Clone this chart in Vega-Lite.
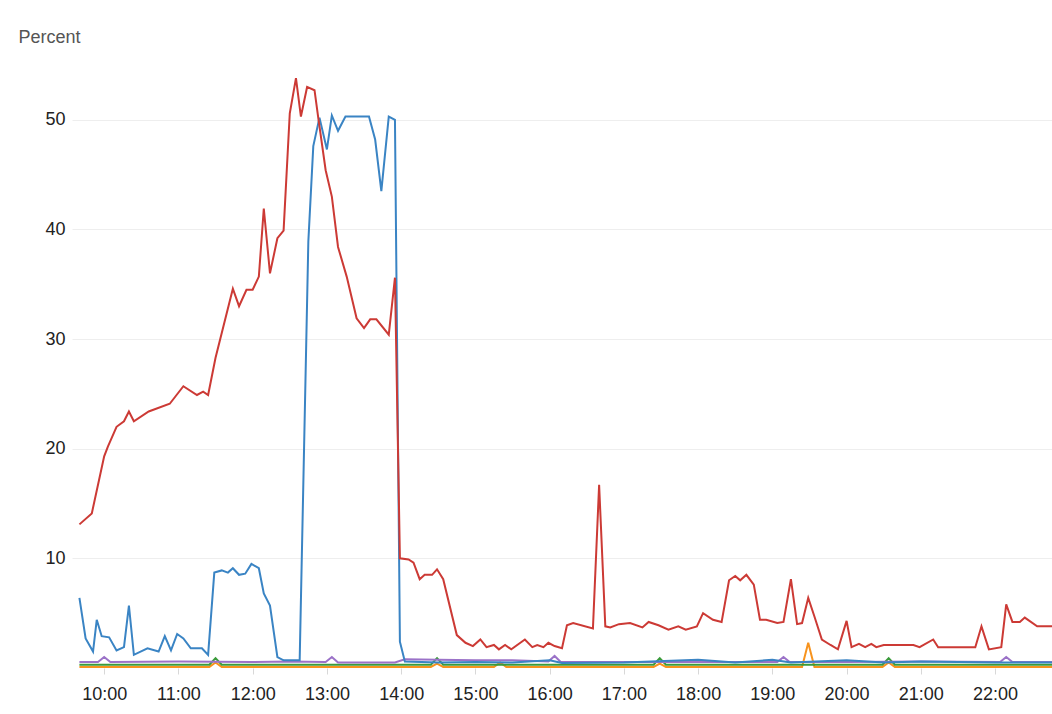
{
  "$schema": "https://vega.github.io/schema/vega-lite/v6.json",
  "autosize": {"type": "none"},
  "padding": {"left": 72, "top": 65, "right": 0, "bottom": 46},
  "width": 980,
  "height": 603,
  "background": "white",
  "config": {"view": {"stroke": null}, "font": "Liberation Sans"},
  "datasets": {
    "series": [
      {"s": "E", "t": "2020-01-01T09:40:00Z", "v": 0.1},
      {"s": "E", "t": "2020-01-01T11:25:00Z", "v": 0.1},
      {"s": "E", "t": "2020-01-01T11:30:00Z", "v": 0.5},
      {"s": "E", "t": "2020-01-01T11:35:00Z", "v": 0.1},
      {"s": "E", "t": "2020-01-01T14:24:00Z", "v": 0.1},
      {"s": "E", "t": "2020-01-01T14:29:00Z", "v": 0.4},
      {"s": "E", "t": "2020-01-01T14:34:00Z", "v": 0.1},
      {"s": "E", "t": "2020-01-01T15:15:00Z", "v": 0.1},
      {"s": "E", "t": "2020-01-01T15:20:00Z", "v": 0.5},
      {"s": "E", "t": "2020-01-01T15:25:00Z", "v": 0.1},
      {"s": "E", "t": "2020-01-01T17:24:00Z", "v": 0.1},
      {"s": "E", "t": "2020-01-01T17:29:00Z", "v": 0.4},
      {"s": "E", "t": "2020-01-01T17:34:00Z", "v": 0.1},
      {"s": "E", "t": "2020-01-01T19:24:00Z", "v": 0.1},
      {"s": "E", "t": "2020-01-01T19:29:00Z", "v": 2.3},
      {"s": "E", "t": "2020-01-01T19:34:00Z", "v": 0.1},
      {"s": "E", "t": "2020-01-01T20:29:00Z", "v": 0.1},
      {"s": "E", "t": "2020-01-01T20:34:00Z", "v": 0.5},
      {"s": "E", "t": "2020-01-01T20:39:00Z", "v": 0.1},
      {"s": "E", "t": "2020-01-01T22:46:00Z", "v": 0.1},

      {"s": "D", "t": "2020-01-01T09:40:00Z", "v": 0.3},
      {"s": "D", "t": "2020-01-01T11:25:00Z", "v": 0.3},
      {"s": "D", "t": "2020-01-01T11:30:00Z", "v": 0.9},
      {"s": "D", "t": "2020-01-01T11:35:00Z", "v": 0.3},
      {"s": "D", "t": "2020-01-01T14:24:00Z", "v": 0.3},
      {"s": "D", "t": "2020-01-01T14:29:00Z", "v": 0.9},
      {"s": "D", "t": "2020-01-01T14:34:00Z", "v": 0.3},
      {"s": "D", "t": "2020-01-01T17:24:00Z", "v": 0.3},
      {"s": "D", "t": "2020-01-01T17:29:00Z", "v": 0.9},
      {"s": "D", "t": "2020-01-01T17:34:00Z", "v": 0.3},
      {"s": "D", "t": "2020-01-01T20:29:00Z", "v": 0.3},
      {"s": "D", "t": "2020-01-01T20:34:00Z", "v": 0.9},
      {"s": "D", "t": "2020-01-01T20:39:00Z", "v": 0.3},
      {"s": "D", "t": "2020-01-01T22:46:00Z", "v": 0.3},

      {"s": "C", "t": "2020-01-01T09:40:00Z", "v": 0.55},
      {"s": "C", "t": "2020-01-01T09:55:00Z", "v": 0.55},
      {"s": "C", "t": "2020-01-01T10:00:00Z", "v": 1.0},
      {"s": "C", "t": "2020-01-01T10:05:00Z", "v": 0.55},
      {"s": "C", "t": "2020-01-01T11:00:00Z", "v": 0.6},
      {"s": "C", "t": "2020-01-01T12:00:00Z", "v": 0.55},
      {"s": "C", "t": "2020-01-01T12:30:00Z", "v": 0.6},
      {"s": "C", "t": "2020-01-01T12:59:00Z", "v": 0.55},
      {"s": "C", "t": "2020-01-01T13:04:00Z", "v": 1.0},
      {"s": "C", "t": "2020-01-01T13:09:00Z", "v": 0.5},
      {"s": "C", "t": "2020-01-01T13:55:00Z", "v": 0.5},
      {"s": "C", "t": "2020-01-01T14:03:00Z", "v": 0.8},
      {"s": "C", "t": "2020-01-01T14:30:00Z", "v": 0.75},
      {"s": "C", "t": "2020-01-01T15:00:00Z", "v": 0.7},
      {"s": "C", "t": "2020-01-01T15:30:00Z", "v": 0.7},
      {"s": "C", "t": "2020-01-01T15:59:00Z", "v": 0.6},
      {"s": "C", "t": "2020-01-01T16:04:00Z", "v": 1.1},
      {"s": "C", "t": "2020-01-01T16:09:00Z", "v": 0.55},
      {"s": "C", "t": "2020-01-01T17:00:00Z", "v": 0.55},
      {"s": "C", "t": "2020-01-01T18:00:00Z", "v": 0.55},
      {"s": "C", "t": "2020-01-01T19:04:00Z", "v": 0.55},
      {"s": "C", "t": "2020-01-01T19:09:00Z", "v": 1.0},
      {"s": "C", "t": "2020-01-01T19:14:00Z", "v": 0.55},
      {"s": "C", "t": "2020-01-01T20:00:00Z", "v": 0.55},
      {"s": "C", "t": "2020-01-01T21:00:00Z", "v": 0.6},
      {"s": "C", "t": "2020-01-01T22:04:00Z", "v": 0.55},
      {"s": "C", "t": "2020-01-01T22:09:00Z", "v": 1.0},
      {"s": "C", "t": "2020-01-01T22:14:00Z", "v": 0.55},
      {"s": "C", "t": "2020-01-01T22:46:00Z", "v": 0.55},

      {"s": "B", "t": "2020-01-01T09:40:00Z", "v": 6.4},
      {"s": "B", "t": "2020-01-01T09:45:00Z", "v": 2.7},
      {"s": "B", "t": "2020-01-01T09:51:00Z", "v": 1.5},
      {"s": "B", "t": "2020-01-01T09:54:00Z", "v": 4.4},
      {"s": "B", "t": "2020-01-01T09:58:00Z", "v": 2.9},
      {"s": "B", "t": "2020-01-01T10:04:00Z", "v": 2.8},
      {"s": "B", "t": "2020-01-01T10:10:00Z", "v": 1.6},
      {"s": "B", "t": "2020-01-01T10:16:00Z", "v": 1.9},
      {"s": "B", "t": "2020-01-01T10:20:00Z", "v": 5.7},
      {"s": "B", "t": "2020-01-01T10:24:00Z", "v": 1.2},
      {"s": "B", "t": "2020-01-01T10:35:00Z", "v": 1.8},
      {"s": "B", "t": "2020-01-01T10:44:00Z", "v": 1.5},
      {"s": "B", "t": "2020-01-01T10:49:00Z", "v": 2.9},
      {"s": "B", "t": "2020-01-01T10:54:00Z", "v": 1.6},
      {"s": "B", "t": "2020-01-01T10:59:00Z", "v": 3.1},
      {"s": "B", "t": "2020-01-01T11:04:00Z", "v": 2.7},
      {"s": "B", "t": "2020-01-01T11:10:00Z", "v": 1.8},
      {"s": "B", "t": "2020-01-01T11:19:00Z", "v": 1.8},
      {"s": "B", "t": "2020-01-01T11:24:00Z", "v": 1.2},
      {"s": "B", "t": "2020-01-01T11:29:00Z", "v": 8.7},
      {"s": "B", "t": "2020-01-01T11:35:00Z", "v": 8.9},
      {"s": "B", "t": "2020-01-01T11:40:00Z", "v": 8.7},
      {"s": "B", "t": "2020-01-01T11:44:00Z", "v": 9.1},
      {"s": "B", "t": "2020-01-01T11:49:00Z", "v": 8.5},
      {"s": "B", "t": "2020-01-01T11:54:00Z", "v": 8.6},
      {"s": "B", "t": "2020-01-01T11:59:00Z", "v": 9.5},
      {"s": "B", "t": "2020-01-01T12:05:00Z", "v": 9.1},
      {"s": "B", "t": "2020-01-01T12:09:00Z", "v": 6.8},
      {"s": "B", "t": "2020-01-01T12:14:00Z", "v": 5.7},
      {"s": "B", "t": "2020-01-01T12:20:00Z", "v": 1.0},
      {"s": "B", "t": "2020-01-01T12:25:00Z", "v": 0.7},
      {"s": "B", "t": "2020-01-01T12:38:00Z", "v": 0.7},
      {"s": "B", "t": "2020-01-01T12:45:00Z", "v": 38.9},
      {"s": "B", "t": "2020-01-01T12:49:00Z", "v": 47.6},
      {"s": "B", "t": "2020-01-01T12:54:00Z", "v": 50.2},
      {"s": "B", "t": "2020-01-01T13:00:00Z", "v": 47.3},
      {"s": "B", "t": "2020-01-01T13:04:00Z", "v": 50.4},
      {"s": "B", "t": "2020-01-01T13:09:00Z", "v": 49.0},
      {"s": "B", "t": "2020-01-01T13:15:00Z", "v": 50.3},
      {"s": "B", "t": "2020-01-01T13:34:00Z", "v": 50.3},
      {"s": "B", "t": "2020-01-01T13:39:00Z", "v": 48.2},
      {"s": "B", "t": "2020-01-01T13:44:00Z", "v": 43.5},
      {"s": "B", "t": "2020-01-01T13:50:00Z", "v": 50.3},
      {"s": "B", "t": "2020-01-01T13:55:00Z", "v": 50.0},
      {"s": "B", "t": "2020-01-01T13:59:00Z", "v": 2.4},
      {"s": "B", "t": "2020-01-01T14:03:00Z", "v": 0.6},
      {"s": "B", "t": "2020-01-01T14:30:00Z", "v": 0.5},
      {"s": "B", "t": "2020-01-01T15:00:00Z", "v": 0.55},
      {"s": "B", "t": "2020-01-01T15:30:00Z", "v": 0.5},
      {"s": "B", "t": "2020-01-01T16:00:00Z", "v": 0.7},
      {"s": "B", "t": "2020-01-01T16:10:00Z", "v": 0.45},
      {"s": "B", "t": "2020-01-01T17:00:00Z", "v": 0.5},
      {"s": "B", "t": "2020-01-01T18:00:00Z", "v": 0.75},
      {"s": "B", "t": "2020-01-01T18:30:00Z", "v": 0.5},
      {"s": "B", "t": "2020-01-01T19:00:00Z", "v": 0.75},
      {"s": "B", "t": "2020-01-01T19:15:00Z", "v": 0.5},
      {"s": "B", "t": "2020-01-01T20:00:00Z", "v": 0.7},
      {"s": "B", "t": "2020-01-01T20:30:00Z", "v": 0.5},
      {"s": "B", "t": "2020-01-01T21:00:00Z", "v": 0.6},
      {"s": "B", "t": "2020-01-01T22:00:00Z", "v": 0.5},
      {"s": "B", "t": "2020-01-01T22:46:00Z", "v": 0.5},

      {"s": "A", "t": "2020-01-01T09:40:00Z", "v": 13.1},
      {"s": "A", "t": "2020-01-01T09:50:00Z", "v": 14.1},
      {"s": "A", "t": "2020-01-01T10:00:00Z", "v": 19.3},
      {"s": "A", "t": "2020-01-01T10:03:00Z", "v": 20.2},
      {"s": "A", "t": "2020-01-01T10:10:00Z", "v": 22.0},
      {"s": "A", "t": "2020-01-01T10:16:00Z", "v": 22.5},
      {"s": "A", "t": "2020-01-01T10:20:00Z", "v": 23.4},
      {"s": "A", "t": "2020-01-01T10:24:00Z", "v": 22.5},
      {"s": "A", "t": "2020-01-01T10:36:00Z", "v": 23.4},
      {"s": "A", "t": "2020-01-01T10:53:00Z", "v": 24.1},
      {"s": "A", "t": "2020-01-01T11:04:00Z", "v": 25.7},
      {"s": "A", "t": "2020-01-01T11:15:00Z", "v": 24.9},
      {"s": "A", "t": "2020-01-01T11:20:00Z", "v": 25.2},
      {"s": "A", "t": "2020-01-01T11:24:00Z", "v": 24.9},
      {"s": "A", "t": "2020-01-01T11:30:00Z", "v": 28.3},
      {"s": "A", "t": "2020-01-01T11:44:00Z", "v": 34.6},
      {"s": "A", "t": "2020-01-01T11:49:00Z", "v": 33.0},
      {"s": "A", "t": "2020-01-01T11:55:00Z", "v": 34.5},
      {"s": "A", "t": "2020-01-01T12:00:00Z", "v": 34.5},
      {"s": "A", "t": "2020-01-01T12:05:00Z", "v": 35.7},
      {"s": "A", "t": "2020-01-01T12:09:00Z", "v": 41.9},
      {"s": "A", "t": "2020-01-01T12:14:00Z", "v": 36.0},
      {"s": "A", "t": "2020-01-01T12:20:00Z", "v": 39.2},
      {"s": "A", "t": "2020-01-01T12:25:00Z", "v": 39.9},
      {"s": "A", "t": "2020-01-01T12:30:00Z", "v": 50.6},
      {"s": "A", "t": "2020-01-01T12:35:00Z", "v": 53.8},
      {"s": "A", "t": "2020-01-01T12:39:00Z", "v": 50.3},
      {"s": "A", "t": "2020-01-01T12:44:00Z", "v": 53.0},
      {"s": "A", "t": "2020-01-01T12:50:00Z", "v": 52.7},
      {"s": "A", "t": "2020-01-01T12:53:00Z", "v": 50.2},
      {"s": "A", "t": "2020-01-01T12:59:00Z", "v": 45.4},
      {"s": "A", "t": "2020-01-01T13:04:00Z", "v": 43.0},
      {"s": "A", "t": "2020-01-01T13:09:00Z", "v": 38.4},
      {"s": "A", "t": "2020-01-01T13:16:00Z", "v": 35.7},
      {"s": "A", "t": "2020-01-01T13:24:00Z", "v": 31.9},
      {"s": "A", "t": "2020-01-01T13:30:00Z", "v": 31.0},
      {"s": "A", "t": "2020-01-01T13:35:00Z", "v": 31.8},
      {"s": "A", "t": "2020-01-01T13:40:00Z", "v": 31.8},
      {"s": "A", "t": "2020-01-01T13:50:00Z", "v": 30.4},
      {"s": "A", "t": "2020-01-01T13:55:00Z", "v": 35.6},
      {"s": "A", "t": "2020-01-01T13:59:00Z", "v": 10.0},
      {"s": "A", "t": "2020-01-01T14:06:00Z", "v": 9.9},
      {"s": "A", "t": "2020-01-01T14:10:00Z", "v": 9.6},
      {"s": "A", "t": "2020-01-01T14:15:00Z", "v": 8.1},
      {"s": "A", "t": "2020-01-01T14:19:00Z", "v": 8.5},
      {"s": "A", "t": "2020-01-01T14:25:00Z", "v": 8.5},
      {"s": "A", "t": "2020-01-01T14:29:00Z", "v": 9.0},
      {"s": "A", "t": "2020-01-01T14:34:00Z", "v": 8.1},
      {"s": "A", "t": "2020-01-01T14:45:00Z", "v": 3.0},
      {"s": "A", "t": "2020-01-01T14:52:00Z", "v": 2.3},
      {"s": "A", "t": "2020-01-01T14:58:00Z", "v": 2.0},
      {"s": "A", "t": "2020-01-01T15:04:00Z", "v": 2.6},
      {"s": "A", "t": "2020-01-01T15:09:00Z", "v": 1.9},
      {"s": "A", "t": "2020-01-01T15:15:00Z", "v": 2.1},
      {"s": "A", "t": "2020-01-01T15:19:00Z", "v": 1.7},
      {"s": "A", "t": "2020-01-01T15:24:00Z", "v": 2.1},
      {"s": "A", "t": "2020-01-01T15:29:00Z", "v": 1.7},
      {"s": "A", "t": "2020-01-01T15:40:00Z", "v": 2.6},
      {"s": "A", "t": "2020-01-01T15:46:00Z", "v": 1.9},
      {"s": "A", "t": "2020-01-01T15:50:00Z", "v": 2.1},
      {"s": "A", "t": "2020-01-01T15:55:00Z", "v": 1.9},
      {"s": "A", "t": "2020-01-01T15:59:00Z", "v": 2.3},
      {"s": "A", "t": "2020-01-01T16:04:00Z", "v": 2.0},
      {"s": "A", "t": "2020-01-01T16:10:00Z", "v": 1.8},
      {"s": "A", "t": "2020-01-01T16:14:00Z", "v": 3.9},
      {"s": "A", "t": "2020-01-01T16:19:00Z", "v": 4.1},
      {"s": "A", "t": "2020-01-01T16:35:00Z", "v": 3.6},
      {"s": "A", "t": "2020-01-01T16:40:00Z", "v": 16.7},
      {"s": "A", "t": "2020-01-01T16:45:00Z", "v": 3.8},
      {"s": "A", "t": "2020-01-01T16:49:00Z", "v": 3.7},
      {"s": "A", "t": "2020-01-01T16:56:00Z", "v": 4.0},
      {"s": "A", "t": "2020-01-01T17:05:00Z", "v": 4.1},
      {"s": "A", "t": "2020-01-01T17:15:00Z", "v": 3.7},
      {"s": "A", "t": "2020-01-01T17:20:00Z", "v": 4.2},
      {"s": "A", "t": "2020-01-01T17:28:00Z", "v": 3.9},
      {"s": "A", "t": "2020-01-01T17:36:00Z", "v": 3.5},
      {"s": "A", "t": "2020-01-01T17:44:00Z", "v": 3.8},
      {"s": "A", "t": "2020-01-01T17:50:00Z", "v": 3.5},
      {"s": "A", "t": "2020-01-01T17:59:00Z", "v": 3.8},
      {"s": "A", "t": "2020-01-01T18:04:00Z", "v": 5.0},
      {"s": "A", "t": "2020-01-01T18:12:00Z", "v": 4.4},
      {"s": "A", "t": "2020-01-01T18:19:00Z", "v": 4.2},
      {"s": "A", "t": "2020-01-01T18:25:00Z", "v": 8.0},
      {"s": "A", "t": "2020-01-01T18:30:00Z", "v": 8.4},
      {"s": "A", "t": "2020-01-01T18:34:00Z", "v": 8.0},
      {"s": "A", "t": "2020-01-01T18:39:00Z", "v": 8.5},
      {"s": "A", "t": "2020-01-01T18:45:00Z", "v": 7.6},
      {"s": "A", "t": "2020-01-01T18:50:00Z", "v": 4.4},
      {"s": "A", "t": "2020-01-01T18:55:00Z", "v": 4.4},
      {"s": "A", "t": "2020-01-01T19:04:00Z", "v": 4.1},
      {"s": "A", "t": "2020-01-01T19:09:00Z", "v": 4.2},
      {"s": "A", "t": "2020-01-01T19:15:00Z", "v": 8.1},
      {"s": "A", "t": "2020-01-01T19:20:00Z", "v": 4.0},
      {"s": "A", "t": "2020-01-01T19:24:00Z", "v": 4.1},
      {"s": "A", "t": "2020-01-01T19:29:00Z", "v": 6.4},
      {"s": "A", "t": "2020-01-01T19:34:00Z", "v": 4.7},
      {"s": "A", "t": "2020-01-01T19:40:00Z", "v": 2.6},
      {"s": "A", "t": "2020-01-01T19:47:00Z", "v": 2.1},
      {"s": "A", "t": "2020-01-01T19:53:00Z", "v": 1.7},
      {"s": "A", "t": "2020-01-01T20:00:00Z", "v": 4.3},
      {"s": "A", "t": "2020-01-01T20:04:00Z", "v": 1.9},
      {"s": "A", "t": "2020-01-01T20:10:00Z", "v": 2.2},
      {"s": "A", "t": "2020-01-01T20:15:00Z", "v": 1.9},
      {"s": "A", "t": "2020-01-01T20:20:00Z", "v": 2.2},
      {"s": "A", "t": "2020-01-01T20:24:00Z", "v": 1.9},
      {"s": "A", "t": "2020-01-01T20:30:00Z", "v": 2.1},
      {"s": "A", "t": "2020-01-01T20:54:00Z", "v": 2.1},
      {"s": "A", "t": "2020-01-01T20:59:00Z", "v": 1.9},
      {"s": "A", "t": "2020-01-01T21:10:00Z", "v": 2.6},
      {"s": "A", "t": "2020-01-01T21:14:00Z", "v": 1.9},
      {"s": "A", "t": "2020-01-01T21:44:00Z", "v": 1.9},
      {"s": "A", "t": "2020-01-01T21:49:00Z", "v": 3.8},
      {"s": "A", "t": "2020-01-01T21:55:00Z", "v": 1.7},
      {"s": "A", "t": "2020-01-01T22:05:00Z", "v": 1.9},
      {"s": "A", "t": "2020-01-01T22:09:00Z", "v": 5.8},
      {"s": "A", "t": "2020-01-01T22:14:00Z", "v": 4.2},
      {"s": "A", "t": "2020-01-01T22:20:00Z", "v": 4.2},
      {"s": "A", "t": "2020-01-01T22:24:00Z", "v": 4.6},
      {"s": "A", "t": "2020-01-01T22:34:00Z", "v": 3.8},
      {"s": "A", "t": "2020-01-01T22:46:00Z", "v": 3.8}
    ]
  },
  "data": {"name": "series"},
  "mark": {"type": "line", "strokeWidth": 2, "clip": true},
  "encoding": {
    "x": {
      "field": "t",
      "type": "temporal",
      "scale": {
        "type": "utc",
        "domain": [1577871240000, 1577918760000],
        "nice": false
      },
      "axis": {
        "title": null,
        "format": "%H:%M",
        "values": [1577872800000, 1577876400000, 1577880000000, 1577883600000, 1577887200000, 1577890800000, 1577894400000, 1577898000000, 1577901600000, 1577905200000, 1577908800000, 1577912400000, 1577916000000],
        "grid": false,
        "domain": false,
        "ticks": true,
        "tickColor": "#d8d8d8",
        "tickSize": 6,
        "labelFontSize": 18,
        "labelColor": "#222222",
        "labelPadding": 11,
        "labelOverlap": false,
        "labelFlush": false
      }
    },
    "y": {
      "field": "v",
      "type": "quantitative",
      "scale": {"domain": [0, 55], "nice": false, "zero": true},
      "axis": {
        "title": "Percent",
        "titleAngle": 0,
        "titleAlign": "left",
        "titleBaseline": "alphabetic",
        "titleX": -54,
        "titleY": -23,
        "titleFontSize": 18,
        "titleFontWeight": "normal",
        "titleColor": "#555555",
        "values": [10, 20, 30, 40, 50],
        "grid": true,
        "gridColor": "#eeeeee",
        "gridWidth": 1,
        "domain": false,
        "ticks": false,
        "labelPadding": 7,
        "labelFontSize": 18,
        "labelColor": "#222222"
      }
    },
    "color": {
      "field": "s",
      "type": "nominal",
      "scale": {
        "domain": ["E", "D", "C", "B", "A"],
        "range": ["#f7931e", "#3a9b3a", "#9b72c8", "#3a84c4", "#cc3a35"]
      },
      "legend": null
    }
  }
}
